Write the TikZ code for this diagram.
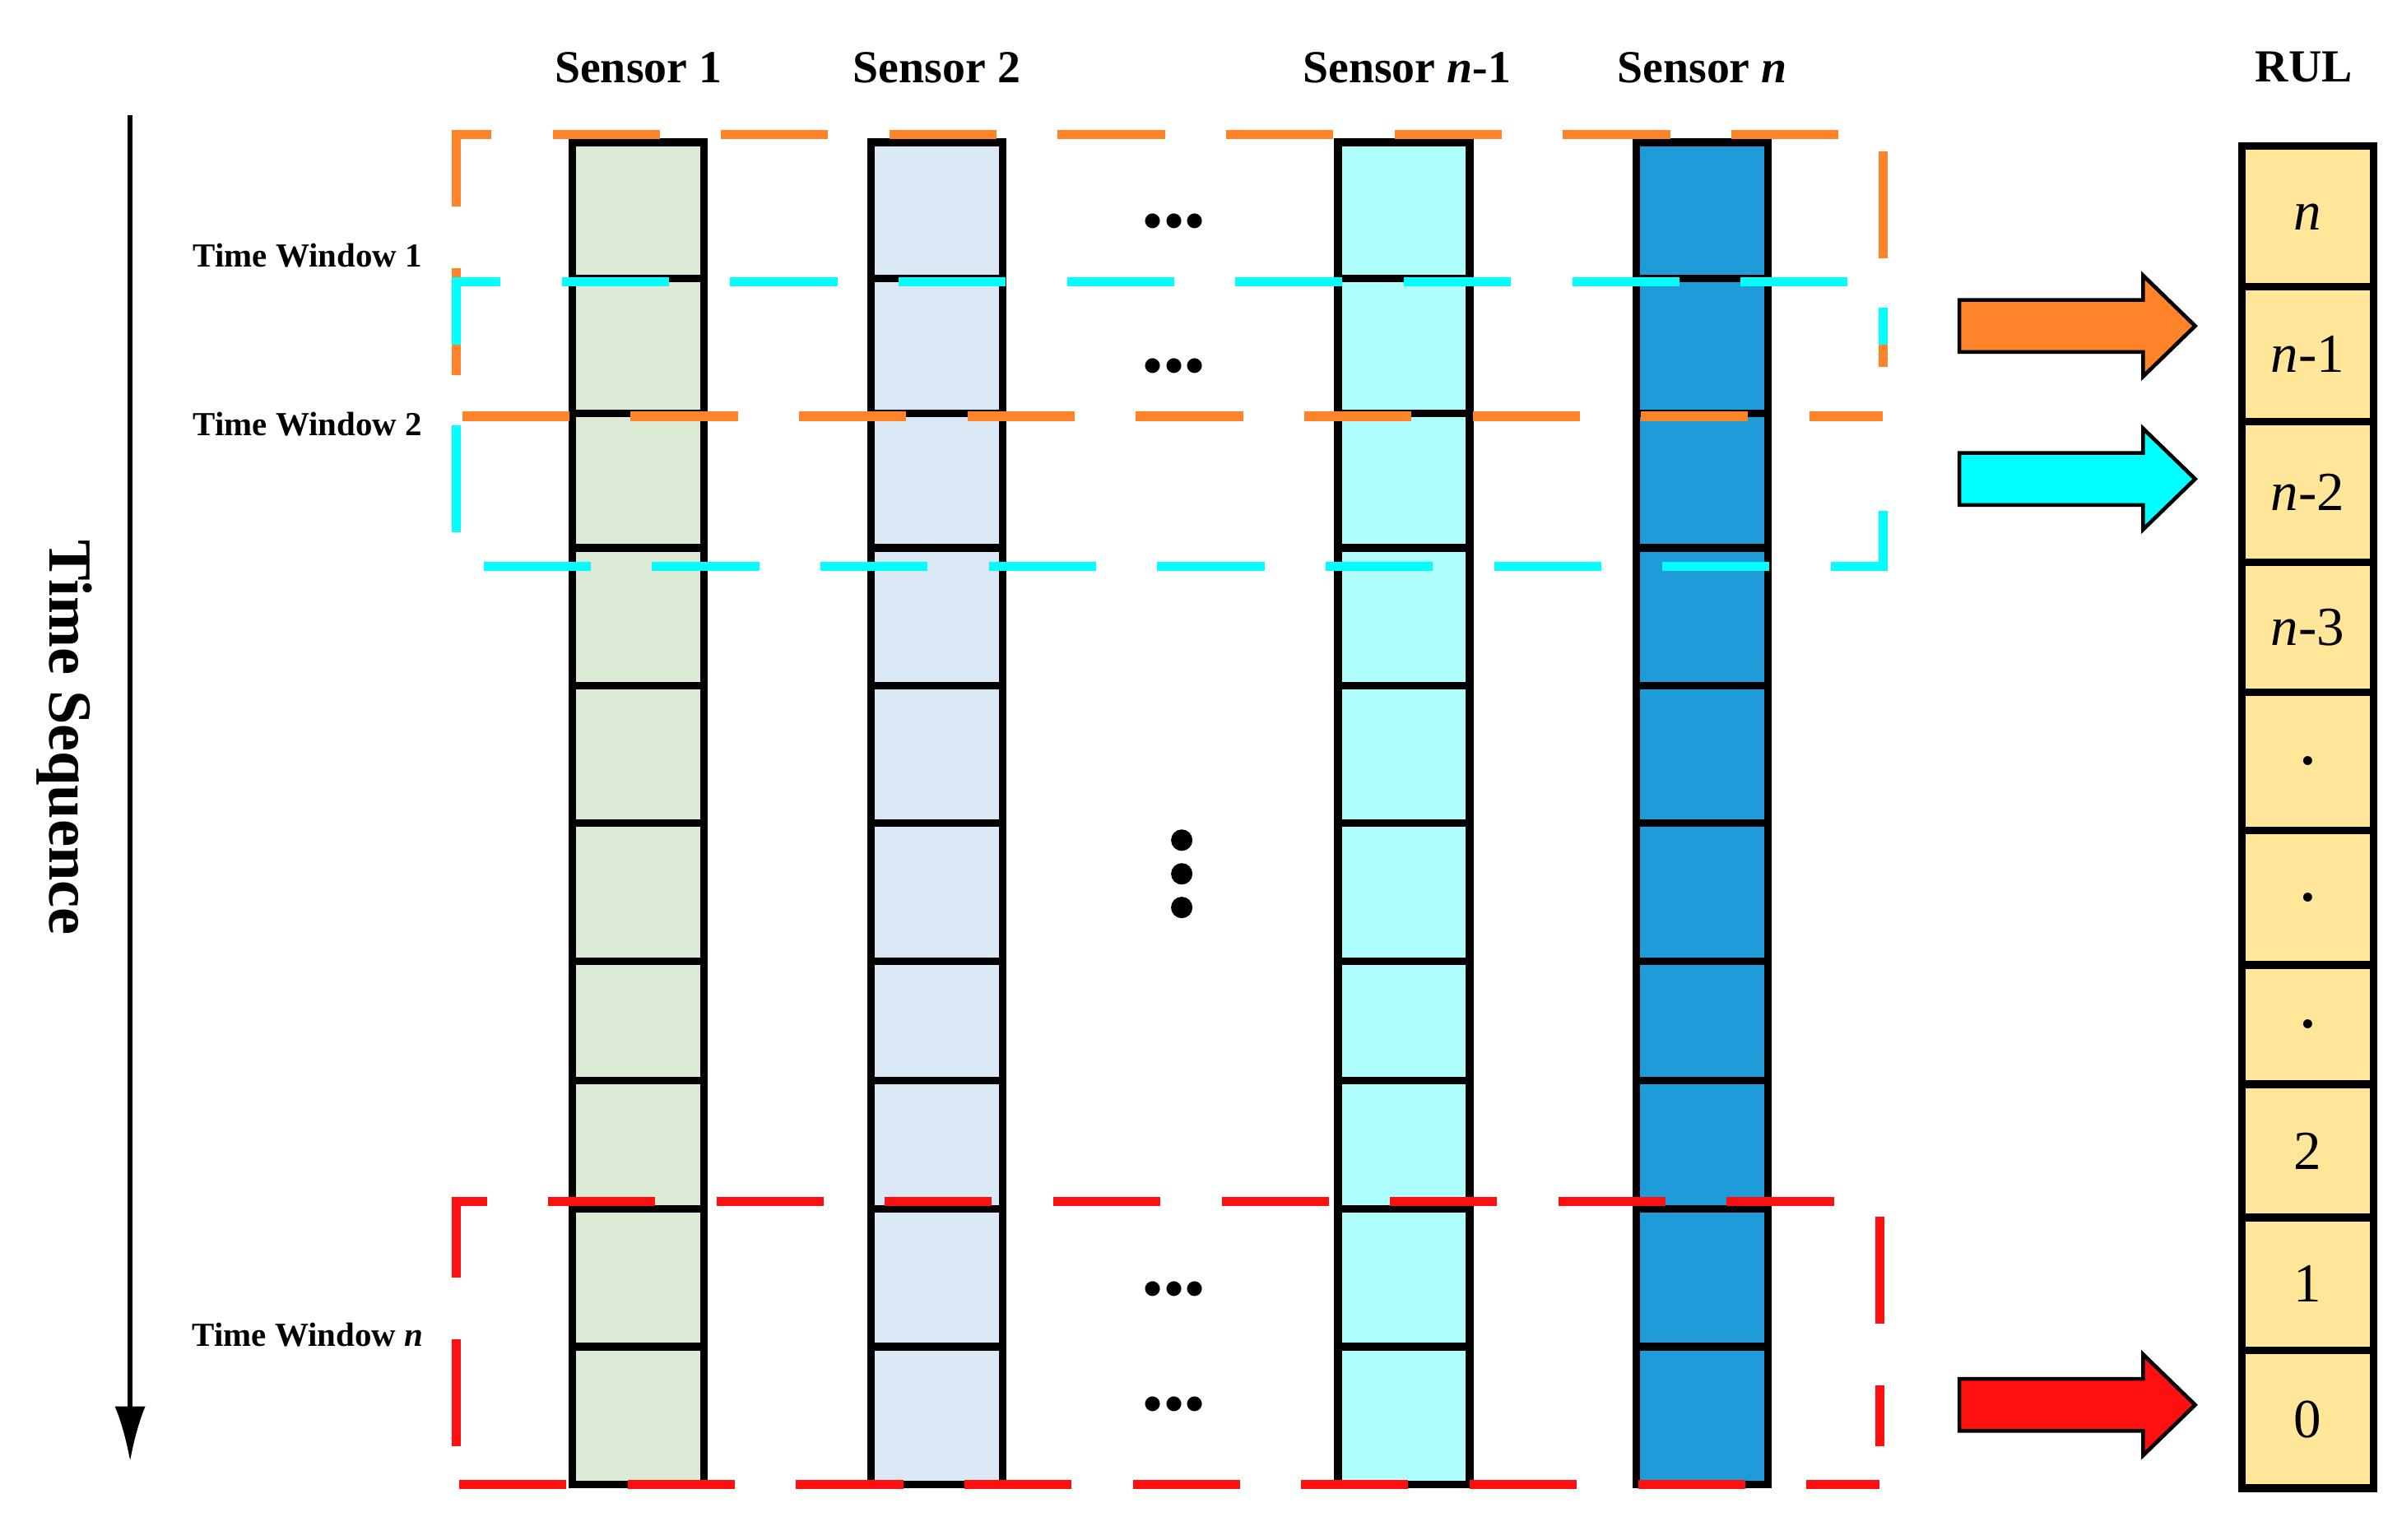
\documentclass[tikz,border=0pt]{standalone}
\usepackage{fontspec}
\setmainfont{Liberation Serif}
\usetikzlibrary{arrows.meta}
\definecolor{cA}{HTML}{DCEBD6}
\definecolor{cB}{HTML}{DAE8F5}
\definecolor{cC}{HTML}{AFFFFF}
\definecolor{cD}{HTML}{1E9CD9}
\definecolor{cR}{HTML}{FFE699}
\definecolor{cO}{HTML}{FF8329}
\definecolor{cY}{HTML}{00FFFF}
\definecolor{cRed}{HTML}{FF1010}
\tikzset{
 cell/.style={draw=black,line width=5pt},
 win/.style={line width=6pt,dash pattern=on 70pt off 40pt},
 blk/.style={draw=black,line width=2.5pt,line join=miter},
 lab/.style={font=\bfseries\fontsize{30}{30}\selectfont},
 tw/.style={font=\bfseries\fontsize{22}{22}\selectfont},
 num/.style={font=\fontsize{36}{36}\selectfont},
 dots/.style={font=\fontsize{40}{40}\selectfont}
}
\begin{document}
\begin{tikzpicture}[x=1pt,y=-1pt]
\useasboundingbox (0,0) rectangle (1560,1006);
% sensor columns
\foreach \x/\c in {374/cA,569/cB,874/cC,1069/cD}{
  \fill[\c] (\x,93) rectangle ++(86,877);
  \foreach \a/\b in {93/182,182/270,270/358,358/448,448/538,538/628,628/706,706/790,790/880,880/970}
    \draw[cell] (\x,\a) rectangle (\x+86,\b);
}
% RUL column
\foreach \a/\b/\t [count=\i] in {93/185/{\textit{n}},185/273/{\textit{n}-1},273/365/{\textit{n}-2},365/450/{\textit{n}-3},450/540/{\textbf{.}},540/628/{\textbf{.}},628/706/{\textbf{.}},706/793/2,793/880/1,880/970/0}
  \node[cell,fill=cR,minimum width=86pt,minimum height=\b-\a,inner sep=0pt,num,anchor=north west] (r\i) at (1462,\a) {\t};
% labels
\node[lab] (s1) at (417,44) {Sensor 1};
\node[lab] (s2) at (612,44) {Sensor 2};
\node[lab] (s3) at (919,44) {Sensor \textbf{\textit{n}}-1};
\node[lab] (s4) at (1112,44) {Sensor \textbf{\textit{n}}};
\node[lab] (rul) at (1505,44) {RUL};
\node[tw] (t1) at (201,167) {Time Window 1};
\node[tw] (t2) at (201,277) {Time Window 2};
\node[tw] (tn) at (201,872) {Time Window \textbf{\textit{n}}};
% time sequence
\coordinate (ta) at (85,75); \coordinate (tb) at (85,955);
\draw[line width=3pt,-{Latex[length=36pt,width=20pt]}] (ta) -- (tb);
\node[rotate=-90,font=\bfseries\fontsize{40}{40}\selectfont] (ts) at (42,482) {Time Sequence};
% windows
\draw[win,cO] (298,245) -- (298,88) -- (1230,88) -- (1230,240);
\draw[win,cO] (302,272) -- (1230,272);
\draw[win,cY] (298,225) -- (298,184) -- (1230,184) -- (1230,225);
\draw[win,cY] (298,278) -- (298,370) -- (1230,370) -- (1230,300);
\draw[win,cRed] (298,945) -- (298,785) -- (1228,785) -- (1228,945);
\draw[win,cRed] (300,970) -- (1228,970);
% dots
\foreach \y in {145,240,843,918} \node[dots] (d\y) at (767,\y) {$\bullet\!\bullet\!\bullet$};
\foreach \y in {549,571,593} \fill (772,\y) circle (7pt);
% block arrows
\foreach \y/\c in {213/cO,313/cY,918/cRed}
  \draw[blk,fill=\c] (1280,\y-17) -- (1400,\y-17) -- (1400,\y-33) -- (1434,\y) -- (1400,\y+33) -- (1400,\y+17) -- (1280,\y+17) -- cycle;
\end{tikzpicture}
\end{document}
